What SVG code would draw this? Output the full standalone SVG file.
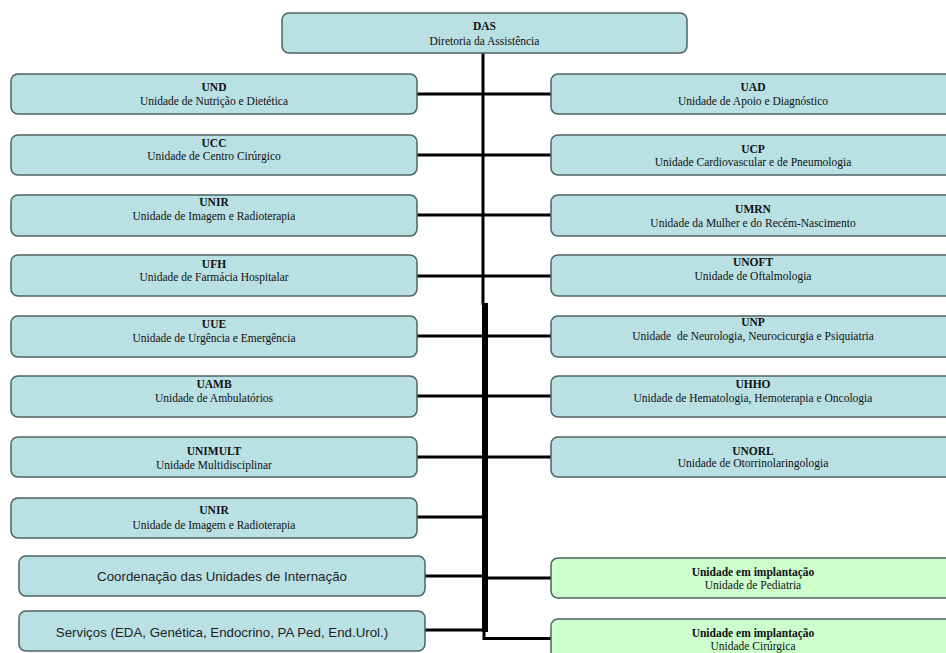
<svg xmlns="http://www.w3.org/2000/svg" width="946" height="653" viewBox="0 0 946 653">
<style>
.box{fill:#b9e0e3;stroke:#4d6263;stroke-width:1.5}
.gbox{fill:#ccffcc;stroke:#4d6263;stroke-width:1.5}
.t{font-family:"Liberation Serif","Times New Roman",serif;font-size:11.5px;font-weight:bold;fill:#111;text-anchor:middle}
.s{font-family:"Liberation Serif","Times New Roman",serif;font-size:11.5px;fill:#111;text-anchor:middle;white-space:pre}
.a{font-family:"Liberation Sans",Arial,sans-serif;font-size:13.3px;fill:#222;text-anchor:middle}
.c{stroke:#000;stroke-width:3;fill:none}
</style>
<rect width="946" height="653" fill="#fff"/>
<g id="connectors">
<line class="c" x1="483" y1="53" x2="483" y2="305" stroke-width="4"/>
<rect x="482" y="303" width="6" height="329" fill="#000"/>
<path class="c" d="M484 630 V638.5 H551" stroke-width="2.5"/>
<line class="c" x1="417" y1="94" x2="551" y2="94"/>
<line class="c" x1="417" y1="155" x2="551" y2="155"/>
<line class="c" x1="417" y1="215" x2="551" y2="215"/>
<line class="c" x1="417" y1="276" x2="551" y2="276"/>
<line class="c" x1="417" y1="336" x2="551" y2="336"/>
<line class="c" x1="417" y1="396" x2="551" y2="396"/>
<line class="c" x1="417" y1="457" x2="551" y2="457"/>
<line class="c" x1="417" y1="517" x2="484" y2="517"/>
<line class="c" x1="425" y1="576" x2="484" y2="576"/>
<line class="c" x1="484" y1="578" x2="551" y2="578"/>
<line class="c" x1="425" y1="630" x2="484" y2="630"/>
</g>
<g id="das"><rect class="box" x="282" y="13" width="405" height="40" rx="7"/><text class="t" x="484.5" y="30">DAS</text><text class="s" x="484.5" y="45">Diretoria da Assistência</text></g>
<g id="und"><rect class="box" x="11" y="74" width="406" height="40" rx="7"/><text class="t" x="214" y="91">UND</text><text class="s" x="214" y="105">Unidade de Nutrição e Dietética</text></g>
<g id="ucc"><rect class="box" x="11" y="135" width="406" height="40" rx="7"/><text class="t" x="214" y="147">UCC</text><text class="s" x="214" y="160">Unidade de Centro Cirúrgico</text></g>
<g id="unir1"><rect class="box" x="11" y="195" width="406" height="41" rx="7"/><text class="t" x="214" y="206">UNIR</text><text class="s" x="214" y="220">Unidade de Imagem e Radioterapia</text></g>
<g id="ufh"><rect class="box" x="11" y="255" width="406" height="41" rx="7"/><text class="t" x="214" y="268">UFH</text><text class="s" x="214" y="281">Unidade de Farmácia Hospitalar</text></g>
<g id="uue"><rect class="box" x="11" y="316" width="406" height="41" rx="7"/><text class="t" x="214" y="328">UUE</text><text class="s" x="214" y="342">Unidade de Urgência e Emergência</text></g>
<g id="uamb"><rect class="box" x="11" y="376" width="406" height="41" rx="7"/><text class="t" x="214" y="388">UAMB</text><text class="s" x="214" y="402">Unidade de Ambulatórios</text></g>
<g id="unimult"><rect class="box" x="11" y="437" width="406" height="40" rx="7"/><text class="t" x="214" y="455">UNIMULT</text><text class="s" x="214" y="469">Unidade Multidisciplinar</text></g>
<g id="unir2"><rect class="box" x="11" y="498" width="406" height="40" rx="7"/><text class="t" x="214" y="514">UNIR</text><text class="s" x="214" y="529">Unidade de Imagem e Radioterapia</text></g>
<g id="coord"><rect class="box" x="19" y="556" width="406" height="40" rx="7"/><text class="a" x="222" y="581">Coordenação das Unidades de Internação</text></g>
<g id="servicos"><rect class="box" x="19" y="611" width="406" height="40" rx="7"/><text class="a" x="222" y="637">Serviços (EDA, Genética, Endocrino, PA Ped, End.Urol.)</text></g>
<g id="uad"><rect class="box" x="551" y="74" width="406" height="40" rx="7"/><text class="t" x="753" y="91">UAD</text><text class="s" x="753" y="105">Unidade de Apoio e Diagnóstico</text></g>
<g id="ucp"><rect class="box" x="551" y="135" width="406" height="40" rx="7"/><text class="t" x="753" y="153">UCP</text><text class="s" x="753" y="166">Unidade Cardiovascular e de Pneumologia</text></g>
<g id="umrn"><rect class="box" x="551" y="195" width="406" height="41" rx="7"/><text class="t" x="753" y="213">UMRN</text><text class="s" x="753" y="227">Unidade da Mulher e do Recém-Nascimento</text></g>
<g id="unoft"><rect class="box" x="551" y="255" width="406" height="41" rx="7"/><text class="t" x="753" y="266">UNOFT</text><text class="s" x="753" y="280">Unidade de Oftalmologia</text></g>
<g id="unp"><rect class="box" x="551" y="316" width="406" height="41" rx="7"/><text class="t" x="753" y="326">UNP</text><text class="s" x="753" y="340" xml:space="preserve">Unidade  de Neurologia, Neurocicurgia e Psiquiatria</text></g>
<g id="uhho"><rect class="box" x="551" y="376" width="406" height="41" rx="7"/><text class="t" x="753" y="388">UHHO</text><text class="s" x="753" y="402">Unidade de Hematologia, Hemoterapia e Oncologia</text></g>
<g id="unorl"><rect class="box" x="551" y="437" width="406" height="40" rx="7"/><text class="t" x="753" y="455">UNORL</text><text class="s" x="753" y="467">Unidade de Otorrinolaringologia</text></g>
<g id="pediatria"><rect class="gbox" x="551" y="558" width="406" height="40" rx="7"/><text class="t" x="753" y="576">Unidade em implantação</text><text class="s" x="753" y="589">Unidade de Pediatria</text></g>
<g id="cirurgica"><rect class="gbox" x="551" y="619" width="406" height="42" rx="7"/><text class="t" x="753" y="637">Unidade em implantação</text><text class="s" x="753" y="650">Unidade Cirúrgica</text></g>
</svg>
